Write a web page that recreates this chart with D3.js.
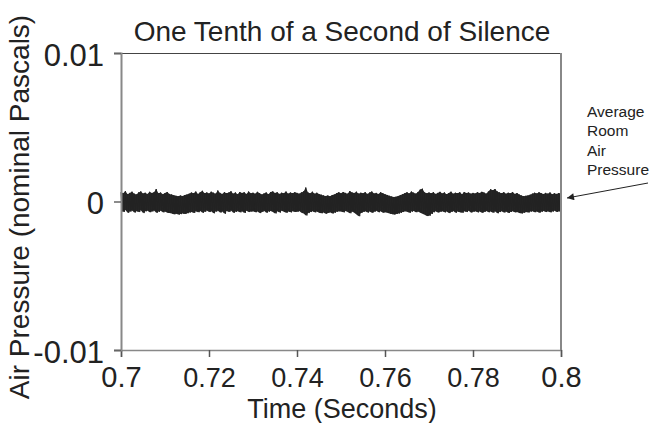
<!DOCTYPE html>
<html lang="en">
<head>
  <meta charset="UTF-8">
  <title>One Tenth of a Second of Silence</title>
  <script src="https://d3js.org/d3.v7.min.js"></script>
  <style>
    body { margin: 0; background: #fff; }
    text { font-family: "Liberation Sans", Arial, sans-serif; fill: #222; }
  </style>
</head>
<body>
  <div id="chart"></div>
  <script>
    // upper and lower envelope of the recorded noise, in 1e-4 Pa,
    // one pair every 0.5 ms from 0.700 s to 0.800 s
    const startTime = 0.7;
    const sampleStep = 0.0005;
    const upper = [
      6.3,5.6,7.0,4.9,5.8,6.6,5.3,4.7,6.1,6.8,5.4,5.9,5.0,6.5,5.7,6.2,8.4,5.5,6.0,4.8,
      5.7,6.4,5.1,4.7,4.2,3.8,3.6,4.0,3.7,4.3,4.7,5.3,6.0,5.5,6.7,5.0,6.2,7.2,5.6,6.1,
      5.4,6.6,5.9,5.2,7.4,5.8,5.1,6.3,5.6,6.0,6.9,5.3,6.1,4.8,6.4,5.7,6.2,5.0,6.7,5.5,
      5.9,5.2,6.5,5.6,4.7,5.4,6.1,4.9,6.4,6.8,5.7,6.2,5.1,5.9,5.5,6.7,5.3,6.0,5.6,6.3,
      5.8,5.3,6.1,6.8,9.4,6.0,5.5,6.6,5.2,5.9,5.0,4.6,4.1,3.7,4.0,3.6,4.3,4.7,5.6,6.2,
      5.5,6.4,5.8,5.2,7.0,6.1,5.7,6.6,5.3,5.9,5.6,6.3,5.1,6.0,6.7,5.4,5.8,5.0,6.2,5.6,
      4.9,4.4,3.8,3.3,3.0,3.2,3.7,4.3,4.8,5.6,6.2,5.4,6.7,5.9,5.3,6.4,8.0,8.6,6.1,5.5,
      6.0,5.6,6.3,5.1,5.8,6.5,5.4,6.1,4.9,5.7,6.6,5.2,5.9,5.5,6.2,4.8,6.4,5.7,6.0,5.3,
      5.8,5.4,6.2,5.7,6.5,6.0,5.3,6.7,8.2,7.6,8.4,6.8,6.1,5.6,6.3,5.2,5.9,5.5,6.4,5.1,
      5.7,4.7,4.0,3.6,3.8,4.1,4.6,5.3,5.9,5.4,6.2,5.6,5.0,5.8,5.3,6.1,4.8,5.5,5.1,5.7,5.3
    ];
    const lower = [
      -6.4,-7.0,-5.7,-7.6,-6.8,-6.1,-7.4,-6.5,-7.1,-5.9,-7.8,-6.6,-6.3,-7.2,-6.7,-6.0,-7.5,-6.9,-6.2,-7.3,
      -6.8,-7.5,-7.7,-8.1,-8.6,-8.3,-8.8,-8.5,-8.1,-8.4,-7.9,-7.4,-7.0,-7.7,-6.6,-7.2,-6.4,-7.5,-6.9,-6.1,
      -7.1,-6.5,-7.9,-6.8,-6.2,-7.4,-6.7,-8.2,-6.4,-7.0,-6.1,-7.6,-6.9,-6.5,-7.3,-6.6,-7.7,-6.3,-7.1,-6.8,
      -6.5,-7.2,-6.7,-7.8,-7.0,-6.3,-7.5,-6.8,-6.4,-7.1,-8.0,-6.6,-7.4,-6.2,-6.9,-7.6,-6.7,-7.3,-6.5,-7.0,
      -6.9,-6.4,-7.5,-8.1,-9.4,-7.8,-7.1,-6.6,-7.3,-6.8,-7.5,-7.9,-7.4,-8.2,-7.7,-7.2,-8.0,-7.5,-6.9,-6.6,
      -6.7,-7.3,-6.4,-7.1,-7.9,-6.8,-7.6,-8.8,-9.9,-7.7,-7.0,-6.5,-7.4,-6.7,-7.6,-6.9,-6.3,-7.2,-6.6,-7.5,
      -7.2,-7.6,-8.1,-8.5,-8.8,-8.4,-8.1,-7.6,-7.1,-6.5,-6.9,-7.6,-6.8,-6.4,-7.2,-6.7,-7.5,-8.2,-9.0,-9.8,
      -9.6,-8.4,-7.2,-6.6,-7.4,-6.9,-6.5,-7.3,-6.7,-7.8,-7.0,-6.4,-7.5,-6.8,-7.2,-7.6,-6.6,-7.1,-6.3,-7.4,
      -6.9,-6.5,-7.3,-6.7,-7.6,-7.0,-6.4,-7.2,-6.8,-7.5,-6.6,-7.9,-7.1,-6.5,-7.4,-6.8,-7.7,-7.0,-6.6,-7.3,
      -7.1,-7.7,-8.0,-7.6,-7.0,-7.4,-6.8,-6.5,-7.2,-6.7,-7.5,-6.9,-6.4,-7.1,-6.6,-7.3,-6.8,-6.3,-7.0,-6.6,-6.8
    ];
    const xTicks = [0.7, 0.72, 0.74, 0.76, 0.78, 0.8];
    const yTicks = [0.01, 0, -0.01];
    const noteLines = ["Average", "Room", "Air", "Pressure"];

    const W = 656, H = 423;
    const plot = { left: 121, right: 561, top: 53, bottom: 350 };

    const svg = d3.select("#chart").append("svg")
      .attr("width", W)
      .attr("height", H);

    const x = d3.scaleLinear().domain([0.7, 0.8]).range([plot.left, plot.right]);
    const y = d3.scaleLinear().domain([-0.01, 0.01]).range([plot.bottom, plot.top]);

    const samples = upper.map((u, i) => ({
      t: startTime + i * sampleStep,
      hi: u * 1e-4,
      lo: lower[i] * 1e-4
    }));

    // solid body of the noise band
    svg.append("path")
      .datum(samples)
      .attr("fill", "#262626")
      .attr("d", d3.area().x(d => x(d.t)).y0(d => y(d.lo)).y1(d => y(d.hi)));

    // zig-zag between upper and lower envelope for the spiky texture
    const pts = [];
    samples.forEach((s, i) => {
      pts.push([s.t, s.hi]);
      pts.push([i < samples.length - 1 ? s.t + sampleStep / 2 : s.t, s.lo]);
    });

    svg.append("path")
      .datum(pts)
      .attr("fill", "none")
      .attr("stroke", "#222")
      .attr("stroke-width", 1)
      .attr("d", d3.line().x(d => x(d[0])).y(d => y(d[1])));

    // frame
    svg.append("line")
      .attr("x1", plot.left).attr("x2", plot.right)
      .attr("y1", plot.top + 0.5).attr("y2", plot.top + 0.5)
      .attr("stroke", "#444").attr("stroke-width", 1);
    svg.append("line")
      .attr("x1", plot.right).attr("x2", plot.right)
      .attr("y1", plot.top).attr("y2", plot.bottom)
      .attr("stroke", "#888").attr("stroke-width", 2);

    const xAxis = svg.append("g")
      .attr("transform", `translate(0,${plot.bottom})`)
      .call(d3.axisBottom(x).tickValues(xTicks).tickSize(7).tickFormat(d3.format("")));
    xAxis.select(".domain").attr("stroke", "#888").attr("stroke-width", 1.5);
    xAxis.selectAll(".tick line").attr("stroke", "#555").attr("stroke-width", 1.5);
    xAxis.selectAll(".tick text")
      .attr("y", 37)
      .attr("dy", null)
      .attr("fill", "#222")
      .style("font-size", d => (d === 0.7 || d === 0.8) ? "29px" : "27px")
      .style("font-family", "'Liberation Sans', Arial, sans-serif");

    const yAxis = svg.append("g")
      .attr("transform", `translate(${plot.left},0)`)
      .call(d3.axisLeft(y).tickValues(yTicks).tickSize(7).tickPadding(10).tickFormat(d3.format("")));
    yAxis.select(".domain").attr("stroke", "#888").attr("stroke-width", 2);
    yAxis.selectAll(".tick line").attr("stroke", "#666").attr("stroke-width", 1.5);
    yAxis.selectAll(".tick text")
      .attr("dy", 12)
      .attr("fill", "#222")
      .style("font-size", "31px")
      .style("font-family", "'Liberation Sans', Arial, sans-serif")
      .text(d => d < 0 ? "-" + Math.abs(d) : d);

    svg.append("text")
      .attr("x", 342).attr("y", 41)
      .attr("text-anchor", "middle")
      .style("font-size", "28px")
      .text("One Tenth of a Second of Silence");

    svg.append("text")
      .attr("x", 342).attr("y", 418)
      .attr("text-anchor", "middle")
      .style("font-size", "27px")
      .text("Time (Seconds)");

    svg.append("text")
      .attr("transform", "translate(29,207) rotate(-90)")
      .attr("text-anchor", "middle")
      .style("font-size", "28px")
      .text("Air Pressure (nominal Pascals)");

    // annotation
    svg.append("g").selectAll("text")
      .data(noteLines)
      .join("text")
      .attr("x", 587)
      .attr("y", (d, i) => 117 + i * 19.3)
      .style("font-size", "15.5px")
      .text(d => d);

    svg.append("defs").append("marker")
      .attr("id", "arrow")
      .attr("viewBox", "0 0 10 10")
      .attr("refX", 10).attr("refY", 5)
      .attr("markerWidth", 9).attr("markerHeight", 7)
      .attr("markerUnits", "userSpaceOnUse")
      .attr("orient", "auto")
      .append("path")
      .attr("d", "M0,0 L10,5 L0,10 Z")
      .attr("fill", "#222");

    svg.append("line")
      .attr("x1", 648).attr("y1", 183)
      .attr("x2", 567).attr("y2", 198)
      .attr("stroke", "#222").attr("stroke-width", 1)
      .attr("marker-end", "url(#arrow)");
  </script>
</body>
</html>
